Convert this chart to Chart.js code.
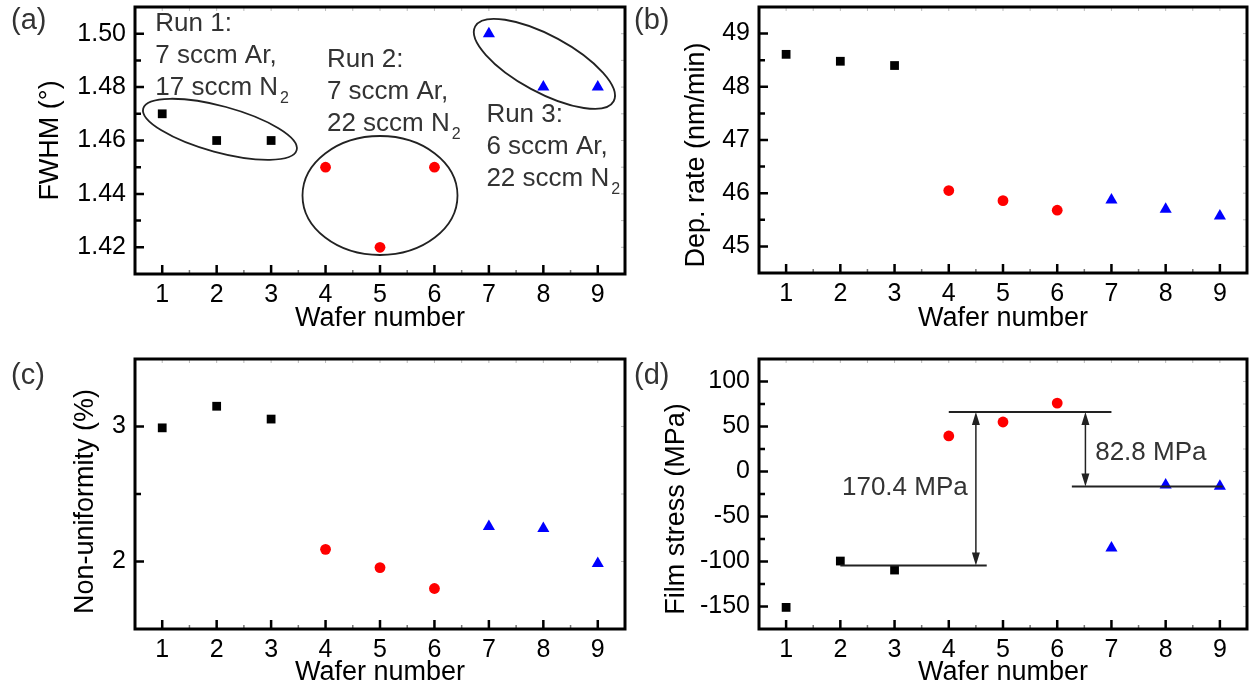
<!DOCTYPE html>
<html>
<head>
<meta charset="utf-8">
<script src="https://cdn.jsdelivr.net/npm/chart.js@4.4.0/dist/chart.umd.min.js"></script>
<style>
  html, body { margin: 0; padding: 0; background: #fff; }
  #wrap { position: relative; width: 1254px; height: 689px; overflow: hidden; }
  canvas { position: absolute; }
</style>
</head>
<body>
<div id="wrap">
  <canvas id="chartA" width="632" height="340" style="left:0;top:0"></canvas>
  <canvas id="chartB" width="622" height="340" style="left:632px;top:0"></canvas>
  <canvas id="chartC" width="632" height="349" style="left:0;top:340px"></canvas>
  <canvas id="chartD" width="622" height="349" style="left:632px;top:340px"></canvas>
</div>
<script>
const FONT = '"Liberation Sans", Arial, sans-serif';

// data
const wafers = [1, 2, 3, 4, 5, 6, 7, 8, 9];
const fwhm = [1.47, 1.46, 1.46, 1.45, 1.42, 1.45, 1.50, 1.48, 1.48];
const depRate = [48.61, 48.48, 48.40, 46.05, 45.86, 45.68, 45.87, 45.70, 45.57];
const nonUniformity = [2.99, 3.15, 3.055, 2.09, 1.955, 1.80, 2.26, 2.245, 1.985];
const filmStress = [-151, -99.5, -109.5, 39.5, 55, 76, -85, -15, -16.5];

// tick labels
const waferTicks = [1, 2, 3, 4, 5, 6, 7, 8, 9];
const fwhmTicks = [1.42, 1.44, 1.46, 1.48, 1.50];
const depTicks = [45, 46, 47, 48, 49];
const nonUniTicks = [2, 3];
const stressTicks = [-150, -100, -50, 0, 50, 100];

// annotations
const runLabels = [
  ['Run 1:', '7 sccm Ar,', '17 sccm N₂'],
  ['Run 2:', '7 sccm Ar,', '22 sccm N₂'],
  ['Run 3:', '6 sccm Ar,', '22 sccm N₂']
];
const stressLevels = [66, -104.4, -16.8];
const stressSteps = ['170.4 MPa', '82.8 MPa'];

function midpoints(arr) {
  const out = [];
  for (let i = 0; i < arr.length - 1; i++) out.push((arr[i] + arr[i + 1]) / 2);
  return out;
}

function pts(values, from, to) {
  return wafers.slice(from, to).map((w, i) => ({ x: w, y: values[from + i] }));
}

function drawRich(ctx, str, px, py, size) {
  const parts = str.split('₂');
  let cx = px;
  parts.forEach((p, i) => {
    ctx.font = size + 'px ' + FONT;
    ctx.textBaseline = 'middle';
    ctx.fillText(p, cx, py);
    cx += ctx.measureText(p).width;
    if (i < parts.length - 1) {
      ctx.font = '16px ' + FONT;
      ctx.textBaseline = 'alphabetic';
      ctx.fillText('2', cx + 2, py + size * 0.35 + 6);
      cx += ctx.measureText('2').width + 2;
    }
  });
}

const decorPlugin = {
  id: 'decor',
  afterDraw(chart, args, opts) {
    const { ctx, chartArea: a } = chart;
    const x = chart.scales.x, y = chart.scales.y;
    ctx.save();

    // faint mirrored ticks on top and right
    ctx.strokeStyle = '#bbb';
    ctx.lineWidth = 1;
    ctx.beginPath();
    opts.xMajor.concat(opts.xMinor).forEach(v => {
      const px = x.getPixelForValue(v);
      ctx.moveTo(px, a.top); ctx.lineTo(px, a.top + 4);
    });
    opts.yMajor.concat(opts.yMinor).forEach(v => {
      const py = y.getPixelForValue(v);
      ctx.moveTo(a.right, py); ctx.lineTo(a.right - 4, py);
    });
    ctx.stroke();

    // major ticks, inward
    ctx.strokeStyle = '#000';
    ctx.lineWidth = 2.5;
    ctx.beginPath();
    opts.xMajor.forEach(v => {
      const px = x.getPixelForValue(v);
      ctx.moveTo(px, a.bottom); ctx.lineTo(px, a.bottom - 9);
    });
    opts.yMajor.forEach(v => {
      const py = y.getPixelForValue(v);
      ctx.moveTo(a.left, py); ctx.lineTo(a.left + 9, py);
    });
    ctx.stroke();
    // minor ticks
    ctx.beginPath();
    opts.yMinor.forEach(v => {
      const py = y.getPixelForValue(v);
      ctx.moveTo(a.left, py); ctx.lineTo(a.left + 6, py);
    });
    ctx.stroke();
    ctx.strokeStyle = '#777';
    ctx.lineWidth = 1.5;
    ctx.beginPath();
    opts.xMinor.forEach(v => {
      const px = x.getPixelForValue(v);
      ctx.moveTo(px, a.bottom); ctx.lineTo(px, a.bottom - 4);
    });
    ctx.stroke();

    // frame
    ctx.strokeStyle = '#000';
    ctx.lineWidth = 3;
    ctx.strokeRect(a.left, a.top, a.right - a.left, a.bottom - a.top);

    // panel letter
    ctx.fillStyle = '#333';
    ctx.font = '29px ' + FONT;
    ctx.textBaseline = 'middle';
    ctx.textAlign = 'left';
    ctx.fillText(opts.label, opts.labelX, opts.labelY);

    // ellipses
    ctx.strokeStyle = '#222';
    ctx.lineWidth = 1.8;
    (opts.ellipses || []).forEach(e => {
      ctx.beginPath();
      ctx.ellipse(x.getPixelForValue(e.x), y.getPixelForValue(e.y), e.rx, e.ry, e.rot * Math.PI / 180, 0, Math.PI * 2);
      ctx.stroke();
    });

    // text blocks
    ctx.fillStyle = '#333';
    (opts.blocks || []).forEach(b => {
      const px = x.getPixelForValue(b.x);
      const py = y.getPixelForValue(b.y);
      b.lines.forEach((line, i) => drawRich(ctx, line, px, py + i * 32, 26));
    });

    // level lines
    ctx.strokeStyle = '#222';
    ctx.lineWidth = 2;
    (opts.lines || []).forEach(l => {
      const py = y.getPixelForValue(l.y);
      ctx.beginPath();
      ctx.moveTo(x.getPixelForValue(l.x1), py);
      ctx.lineTo(x.getPixelForValue(l.x2), py);
      ctx.stroke();
    });

    // double arrows
    ctx.lineWidth = 1.5;
    ctx.fillStyle = '#222';
    (opts.arrows || []).forEach(r => {
      const px = x.getPixelForValue(r.x);
      const p1 = y.getPixelForValue(r.y1);
      const p2 = y.getPixelForValue(r.y2);
      ctx.beginPath();
      ctx.moveTo(px, p1 + 10); ctx.lineTo(px, p2 - 10);
      ctx.stroke();
      ctx.beginPath();
      ctx.moveTo(px, p1); ctx.lineTo(px - 4, p1 + 13); ctx.lineTo(px + 4, p1 + 13); ctx.closePath();
      ctx.moveTo(px, p2); ctx.lineTo(px - 4, p2 - 13); ctx.lineTo(px + 4, p2 - 13); ctx.closePath();
      ctx.fill();
    });

    // plain notes
    ctx.fillStyle = '#333';
    (opts.notes || []).forEach(n => {
      drawRich(ctx, n.text, x.getPixelForValue(n.x), y.getPixelForValue(n.y), 26);
    });

    ctx.restore();
  }
};

function makeChart(id, p) {
  return new Chart(document.getElementById(id), {
    type: 'scatter',
    data: {
      datasets: [
        { data: pts(p.values, 0, 3), pointStyle: 'rect', pointRadius: 6.2, backgroundColor: '#000', borderWidth: 0 },
        { data: pts(p.values, 3, 6), pointStyle: 'circle', pointRadius: 5.4, backgroundColor: '#ff0000', borderWidth: 0 },
        { data: pts(p.values, 6, 9), pointStyle: 'triangle', pointRadius: 7, backgroundColor: '#0000ff', borderWidth: 0 }
      ]
    },
    options: {
      responsive: false,
      animation: false,
      events: [],
      layout: { padding: p.padding },
      plugins: {
        legend: { display: false },
        tooltip: { enabled: false },
        decor: Object.assign({
          xMajor: waferTicks,
          xMinor: midpoints(waferTicks),
          yMajor: p.ticks,
          yMinor: midpoints(p.ticks)
        }, p.decor)
      },
      scales: {
        x: {
          type: 'linear',
          min: 0.5,
          max: 9.5,
          afterBuildTicks: s => { s.ticks = waferTicks.map(v => ({ value: v })); },
          afterFit: s => { s.height = p.xHeight; s.paddingLeft = 0; s.paddingRight = 0; },
          grid: { display: false, drawTicks: false },
          border: { display: false },
          ticks: { padding: 6, color: '#000', font: { family: FONT, size: 25 }, callback: v => String(v) },
          title: { display: true, text: 'Wafer number', color: '#000', font: { family: FONT, size: 27 }, padding: { top: 0, bottom: p.xTitlePad } }
        },
        y: {
          type: 'linear',
          min: p.range[0],
          max: p.range[1],
          afterBuildTicks: s => { s.ticks = p.ticks.map(v => ({ value: v })); },
          afterFit: s => { s.width = p.yWidth; s.paddingTop = 0; s.paddingBottom = 0; },
          grid: { display: false, drawTicks: false },
          border: { display: false },
          ticks: { padding: 9, color: '#000', font: { family: FONT, size: 25 }, callback: p.fmt },
          title: { display: true, text: p.yTitle, color: '#000', font: { family: FONT, size: 27 }, padding: { top: p.yTitlePad, bottom: 0 } }
        }
      }
    },
    plugins: [decorPlugin]
  });
}

makeChart('chartA', {
  values: fwhm, ticks: fwhmTicks, range: [1.41, 1.51], fmt: v => v.toFixed(2),
  yTitle: 'FWHM (°)', yWidth: 135, yTitlePad: 34.8, xHeight: 66, xTitlePad: 4.8,
  padding: { left: 0, top: 4, right: 4, bottom: 0 },
  decor: {
    label: '(a)', labelX: 11, labelY: 21,
    ellipses: [
      { x: 2.06, y: 1.4642, rx: 79.5, ry: 23.1, rot: 15.2 },
      { x: 5.0, y: 1.4394, rx: 77.5, ry: 59.5, rot: 0 },
      { x: 8.02, y: 1.4887, rx: 78.7, ry: 28.4, rot: 28.4 }
    ],
    blocks: [
      { x: 0.872, y: 1.5037, lines: runLabels[0] },
      { x: 4.025, y: 1.4902, lines: runLabels[1] },
      { x: 6.954, y: 1.4697, lines: runLabels[2] }
    ]
  }
});

makeChart('chartB', {
  values: depRate, ticks: depTicks, range: [44.5, 49.5], fmt: v => String(v),
  yTitle: 'Dep. rate (nm/min)    ', yWidth: 127, yTitlePad: 48.8, xHeight: 67, xTitlePad: 4.8,
  padding: { left: 0, top: 4, right: 2, bottom: 0 },
  decor: { label: '(b)', labelX: 2, labelY: 21 }
});

makeChart('chartC', {
  values: nonUniformity, ticks: nonUniTicks, range: [1.5, 3.5], fmt: v => String(v),
  yTitle: 'Non-uniformity (%)  ', yWidth: 135, yTitlePad: 69.8, xHeight: 60, xTitlePad: 0,
  padding: { left: 0, top: 19, right: 4, bottom: 0 },
  decor: { label: '(c)', labelX: 11, labelY: 36 }
});

makeChart('chartD', {
  values: filmStress, ticks: stressTicks, range: [-175, 125], fmt: v => String(v),
  yTitle: 'Film stress (MPa)    ', yWidth: 127, yTitlePad: 28.8, xHeight: 60, xTitlePad: 0,
  padding: { left: 0, top: 19, right: 2, bottom: 0 },
  decor: {
    label: '(d)', labelX: 2, labelY: 36,
    lines: [
      { x1: 2.0, x2: 4.7, y: stressLevels[1] },
      { x1: 4.0, x2: 7.0, y: stressLevels[0] },
      { x1: 6.27, x2: 9.05, y: stressLevels[2] }
    ],
    arrows: [
      { x: 4.5, y1: stressLevels[0], y2: stressLevels[1] },
      { x: 6.52, y1: stressLevels[0], y2: stressLevels[2] }
    ],
    notes: [
      { x: 2.03, y: -18, text: stressSteps[0] },
      { x: 6.7, y: 21, text: stressSteps[1] }
    ]
  }
});
</script>
</body>
</html>
